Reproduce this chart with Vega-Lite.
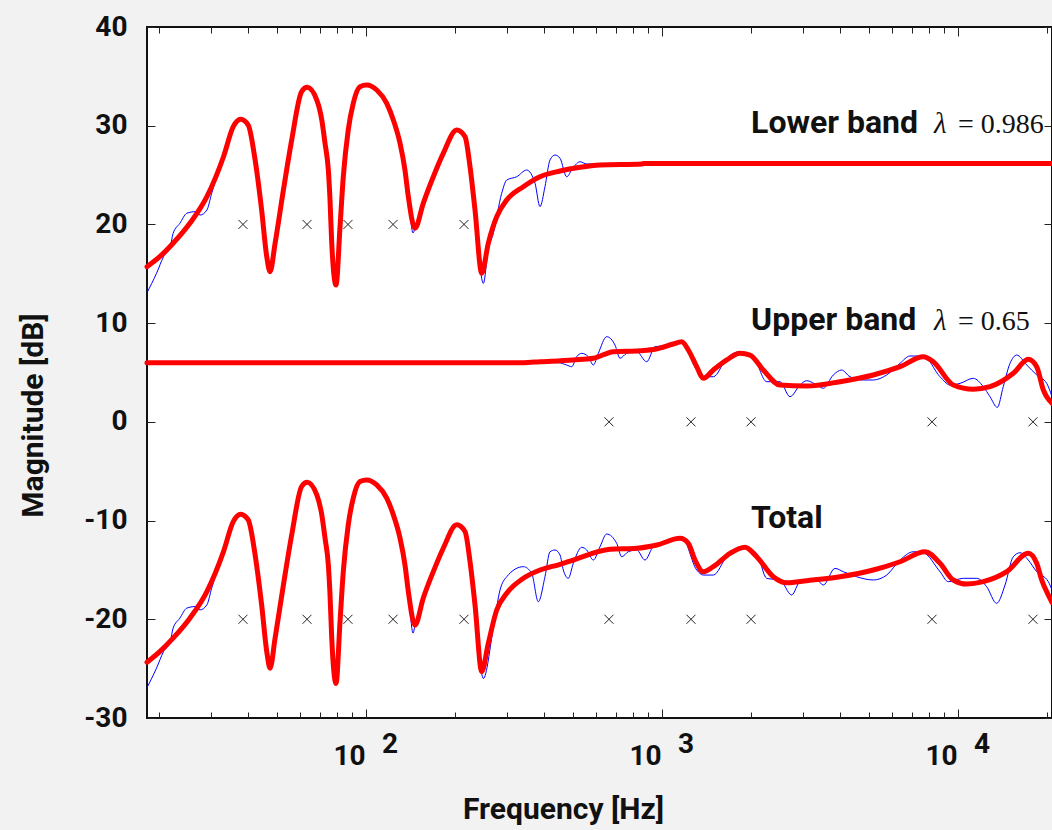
{
  "$schema": "https://vega.github.io/schema/vega-lite/v6.json",
  "width": 905,
  "height": 691,
  "autosize": {"type": "none"},
  "padding": {"left": 147, "top": 27, "right": 0, "bottom": 112},
  "background": "#f2f2f2",
  "config": {
    "view": {"fill": "white", "stroke": "#111", "strokeWidth": 2},
    "axis": {"grid": false, "domain": false, "labelFont": "Roboto", "titleFont": "Roboto", "labelColor": "#111", "titleColor": "#111", "tickColor": "#222"}
  },
  "datasets": {
    "lb": [
      {"f":18.2,"d":13.08},{"f":19.6,"d":15.05},{"f":20.7,"d":16.73},{"f":21.8,"d":17.74},{"f":22.3,"d":19.10},{"f":23.5,"d":20.11},{"f":24.8,"d":21.13},{"f":26.5,"d":21.29},{"f":27.5,"d":20.95},{"f":29.0,"d":21.46},{"f":30.1,"d":23.15},{"f":31.3,"d":24.83},{"f":33.0,"d":26.86},{"f":35.6,"d":29.90},{"f":37.7,"d":30.8},{"f":40.0,"d":30.07},{"f":42.2,"d":26.53},{"f":44.4,"d":21.46},{"f":46.2,"d":16.73},{"f":47.4,"d":15.0},{"f":49.3,"d":18.09},{"f":52.6,"d":23.49},{"f":56.1,"d":28.55},{"f":60.6,"d":33.45},{"f":63.3,"d":33.89},{"f":68.2,"d":32.60},{"f":70.9,"d":30.58},{"f":72.7,"d":28.22},{"f":74.6,"d":25.51},{"f":75.5,"d":22.81},{"f":76.6,"d":18.09},{"f":79.2,"d":13.9},{"f":81.7,"d":19.77},{"f":83.8,"d":24.83},{"f":87.1,"d":29.57},{"f":90.6,"d":32.30},{"f":95.4,"d":33.95},{"f":100.5,"d":34.12},{"f":108.7,"d":33.62},{"f":117.5,"d":32.27},{"f":123.7,"d":30.58},{"f":130.3,"d":28.22},{"f":135.4,"d":25.51},{"f":139.0,"d":22.81},{"f":144.2,"d":19.13},{"f":146.4,"d":19.61},{"f":156.1,"d":22.14},{"f":168.8,"d":24.83},{"f":182.4,"d":27.20},{"f":202.5,"d":29.57},{"f":216.0,"d":28.89},{"f":224.6,"d":25.85},{"f":233.5,"d":21.46},{"f":249.1,"d":14.03},{"f":258.9,"d":17.5},{"f":269.2,"d":19.10},{"f":287.3,"d":23.15},{"f":298.8,"d":24.50},{"f":322.9,"d":24.83},{"f":349.1,"d":25.51},{"f":372.4,"d":24.17},{"f":387.1,"d":21.80},{"f":402.4,"d":23.82},{"f":418.4,"d":26.53},{"f":435.0,"d":27.03},{"f":452.4,"d":26.70},{"f":476.4,"d":24.83},{"f":499.2,"d":25.69},{"f":528.5,"d":26.35},{"f":556.7,"d":26.12},{"f":617.3,"d":26.12},{"f":853.9,"d":26.12},{"f":20780,"d":26.17}
    ],
    "lr": [
      {"f":18.2,"d":15.72},{"f":20.1,"d":16.73},{"f":22.3,"d":18.09},{"f":25.4,"d":20.11},{"f":29.0,"d":22.81},{"f":33.0,"d":26.86},{"f":35.6,"d":29.90},{"f":37.7,"d":30.65},{"f":40.0,"d":30.07},{"f":42.2,"d":26.53},{"f":44.4,"d":21.46},{"f":46.2,"d":16.73},{"f":47.4,"d":15.21},{"f":49.3,"d":18.09},{"f":52.6,"d":23.49},{"f":56.1,"d":28.55},{"f":60.6,"d":33.45},{"f":63.3,"d":33.89},{"f":68.2,"d":32.60},{"f":70.9,"d":30.58},{"f":72.7,"d":28.22},{"f":74.6,"d":25.51},{"f":75.5,"d":22.81},{"f":76.6,"d":18.09},{"f":79.2,"d":13.86},{"f":81.7,"d":19.77},{"f":83.8,"d":24.83},{"f":87.1,"d":29.57},{"f":90.6,"d":32.30},{"f":95.4,"d":33.95},{"f":100.5,"d":34.12},{"f":108.7,"d":33.62},{"f":117.5,"d":32.27},{"f":123.7,"d":30.58},{"f":130.3,"d":28.22},{"f":135.4,"d":25.51},{"f":139.0,"d":22.81},{"f":146.4,"d":19.61},{"f":156.1,"d":22.14},{"f":168.8,"d":24.83},{"f":182.4,"d":27.20},{"f":202.5,"d":29.57},{"f":216.0,"d":28.89},{"f":224.6,"d":25.85},{"f":233.5,"d":21.46},{"f":246.0,"d":15.05},{"f":258.9,"d":18.09},{"f":276.4,"d":20.78},{"f":298.8,"d":22.47},{"f":340.0,"d":23.82},{"f":387.1,"d":24.83},{"f":452.4,"d":25.41},{"f":528.5,"d":25.79},{"f":617.3,"d":26.02},{"f":853.9,"d":26.12},{"f":870,"d":26.17},{"f":20780,"d":26.17}
    ],
    "ub": [
      {"f":18.2,"d":6.0},{"f":387.1,"d":6.0},{"f":445.3,"d":6.0},{"f":476.4,"d":5.76},{"f":495.4,"d":5.59},{"f":515.0,"d":6.60},{"f":535.5,"d":6.94},{"f":563.6,"d":6.60},{"f":586.1,"d":5.76},{"f":609.3,"d":6.94},{"f":650.4,"d":8.63},{"f":693.8,"d":7.78},{"f":721.3,"d":6.44},{"f":759.8,"d":6.94},{"f":821.3,"d":7.11},{"f":887.8,"d":6.09},{"f":947.1,"d":7.61},{"f":1091.8,"d":7.78},{"f":1165.8,"d":8.12},{"f":1310.2,"d":5.25},{"f":1379.2,"d":4.57},{"f":1490.5,"d":4.57},{"f":1654.6,"d":6.44},{"f":1834.5,"d":7.11},{"f":2033.9,"d":6.60},{"f":2258,"d":4.07},{"f":2503.6,"d":4.07},{"f":2707,"d":2.55},{"f":2926,"d":3.73},{"f":3082.3,"d":4.17},{"f":3332,"d":3.73},{"f":3507,"d":3.40},{"f":3791,"d":4.75},{"f":4047,"d":5.25},{"f":4316,"d":4.57},{"f":4786,"d":4.24},{"f":5174,"d":4.24},{"f":5743,"d":4.75},{"f":6370.6,"d":5.93},{"f":6883,"d":6.67},{"f":7635,"d":6.67},{"f":8696,"d":4.57},{"f":9398,"d":3.73},{"f":10160,"d":3.90},{"f":11263,"d":4.41},{"f":12180,"d":3.56},{"f":12827,"d":2.55},{"f":13580,"d":1.47},{"f":14220,"d":3.56},{"f":14990,"d":5.93},{"f":15790,"d":6.77},{"f":17070,"d":5.76},{"f":18450,"d":4.75},{"f":19940,"d":3.90},{"f":20780,"d":2.55}
    ],
    "ur": [
      {"f":18.2,"d":6.0},{"f":340,"d":6.0},{"f":387.1,"d":6.09},{"f":501.6,"d":6.27},{"f":586.1,"d":6.44},{"f":684.7,"d":7.11},{"f":842.8,"d":7.21},{"f":947.1,"d":7.35},{"f":1091.8,"d":7.89},{"f":1165.8,"d":8.12},{"f":1227.2,"d":7.28},{"f":1310.2,"d":5.59},{"f":1379.2,"d":4.41},{"f":1490.5,"d":5.25},{"f":1654.6,"d":6.27},{"f":1834.5,"d":6.94},{"f":1983.2,"d":6.77},{"f":2199.2,"d":5.25},{"f":2503.6,"d":3.73},{"f":3082.3,"d":3.63},{"f":3994,"d":4.07},{"f":5174,"d":4.75},{"f":6370.6,"d":5.59},{"f":7635.3,"d":6.60},{"f":8253,"d":6.09},{"f":9641,"d":3.73},{"f":11263,"d":3.30},{"f":12827,"d":3.56},{"f":15380,"d":4.92},{"f":17280,"d":6.34},{"f":18450,"d":5.59},{"f":19420,"d":3.23},{"f":20780,"d":1.88}
    ],
    "tb": [
      {"f":18.2,"d":-26.92},{"f":19.6,"d":-24.95},{"f":20.7,"d":-23.27},{"f":21.8,"d":-22.26},{"f":22.3,"d":-20.90},{"f":23.5,"d":-19.89},{"f":24.8,"d":-18.87},{"f":26.5,"d":-18.71},{"f":27.5,"d":-19.05},{"f":29.0,"d":-18.54},{"f":30.1,"d":-16.85},{"f":31.3,"d":-15.17},{"f":33.0,"d":-13.14},{"f":35.6,"d":-10.10},{"f":37.7,"d":-9.2},{"f":40.0,"d":-9.93},{"f":42.2,"d":-13.47},{"f":44.4,"d":-18.54},{"f":46.2,"d":-23.27},{"f":47.4,"d":-25.0},{"f":49.3,"d":-21.91},{"f":52.6,"d":-16.51},{"f":56.1,"d":-11.45},{"f":60.6,"d":-6.55},{"f":63.3,"d":-6.11},{"f":68.2,"d":-7.40},{"f":70.9,"d":-9.42},{"f":72.7,"d":-11.78},{"f":74.6,"d":-14.49},{"f":75.5,"d":-17.19},{"f":76.6,"d":-21.91},{"f":79.2,"d":-26.3},{"f":81.7,"d":-20.23},{"f":83.8,"d":-15.17},{"f":87.1,"d":-10.43},{"f":90.6,"d":-7.70},{"f":95.4,"d":-6.05},{"f":100.5,"d":-5.88},{"f":108.7,"d":-6.38},{"f":117.5,"d":-7.73},{"f":123.7,"d":-9.42},{"f":130.3,"d":-11.78},{"f":135.4,"d":-14.49},{"f":139.0,"d":-17.19},{"f":144.2,"d":-21.4},{"f":146.4,"d":-20.6},{"f":156.1,"d":-17.86},{"f":168.8,"d":-15.17},{"f":182.4,"d":-12.80},{"f":202.5,"d":-10.43},{"f":216.0,"d":-11.11},{"f":224.6,"d":-14.15},{"f":233.5,"d":-18.54},{"f":249.1,"d":-26.0},{"f":269.2,"d":-20.9},{"f":283.6,"d":-17.04},{"f":298.8,"d":-15.69},{"f":340.0,"d":-14.67},{"f":362.9,"d":-15.34},{"f":382.0,"d":-18.22},{"f":402.4,"d":-15.69},{"f":418.4,"d":-13.16},{"f":435.0,"d":-12.98},{"f":452.4,"d":-13.49},{"f":464.1,"d":-15.01},{"f":482.5,"d":-15.85},{"f":501.6,"d":-14.33},{"f":535.5,"d":-12.71},{"f":556.7,"d":-12.98},{"f":586.1,"d":-14.0},{"f":617.3,"d":-12.65},{"f":650.4,"d":-11.36},{"f":703.1,"d":-12.31},{"f":730.9,"d":-13.66},{"f":769.3,"d":-13.16},{"f":821.3,"d":-12.98},{"f":876.1,"d":-14.0},{"f":934.6,"d":-12.65},{"f":1091.8,"d":-11.97},{"f":1165.8,"d":-11.64},{"f":1310.2,"d":-15.01},{"f":1379.2,"d":-15.52},{"f":1490.5,"d":-15.52},{"f":1654.6,"d":-13.66},{"f":1883,"d":-12.65},{"f":2089,"d":-13.32},{"f":2258,"d":-15.85},{"f":2503.6,"d":-16.02},{"f":2743,"d":-17.54},{"f":2926,"d":-16.19},{"f":3332,"d":-16.02},{"f":3507,"d":-16.53},{"f":3841,"d":-14.84},{"f":4098,"d":-15.18},{"f":4548,"d":-15.69},{"f":5174,"d":-16.02},{"f":5743,"d":-15.52},{"f":6371,"d":-14.0},{"f":7063,"d":-13.16},{"f":7635,"d":-13.26},{"f":8696,"d":-15.18},{"f":9273,"d":-16.19},{"f":10420,"d":-15.85},{"f":11570,"d":-15.85},{"f":12500,"d":-16.70},{"f":13510,"d":-18.38},{"f":14420,"d":-16.53},{"f":15380,"d":-13.66},{"f":16200,"d":-13.26},{"f":17280,"d":-14.0},{"f":18450,"d":-15.18},{"f":20190,"d":-16.19},{"f":20780,"d":-17.04}
    ],
    "tr": [
      {"f":18.2,"d":-24.35},{"f":20.1,"d":-23.27},{"f":22.3,"d":-21.91},{"f":25.4,"d":-19.89},{"f":29.0,"d":-17.19},{"f":33.0,"d":-13.14},{"f":35.6,"d":-10.10},{"f":37.7,"d":-9.35},{"f":40.0,"d":-9.93},{"f":42.2,"d":-13.47},{"f":44.4,"d":-18.54},{"f":46.2,"d":-23.27},{"f":47.4,"d":-24.97},{"f":49.3,"d":-21.91},{"f":52.6,"d":-16.51},{"f":56.1,"d":-11.45},{"f":60.6,"d":-6.55},{"f":63.3,"d":-6.11},{"f":68.2,"d":-7.40},{"f":70.9,"d":-9.42},{"f":72.7,"d":-11.78},{"f":74.6,"d":-14.49},{"f":75.5,"d":-17.19},{"f":76.6,"d":-21.91},{"f":79.2,"d":-26.5},{"f":81.7,"d":-20.23},{"f":83.8,"d":-15.17},{"f":87.1,"d":-10.43},{"f":90.6,"d":-7.70},{"f":95.4,"d":-6.05},{"f":100.5,"d":-5.88},{"f":108.7,"d":-6.38},{"f":117.5,"d":-7.73},{"f":123.7,"d":-9.42},{"f":130.3,"d":-11.78},{"f":135.4,"d":-14.49},{"f":139.0,"d":-17.19},{"f":146.4,"d":-20.6},{"f":156.1,"d":-17.86},{"f":168.8,"d":-15.17},{"f":182.4,"d":-12.80},{"f":202.5,"d":-10.43},{"f":216.0,"d":-11.11},{"f":224.6,"d":-14.15},{"f":233.5,"d":-18.54},{"f":246.0,"d":-25.3},{"f":258.9,"d":-22.44},{"f":276.4,"d":-19.06},{"f":298.8,"d":-17.37},{"f":340.0,"d":-15.85},{"f":387.1,"d":-15.01},{"f":452.4,"d":-14.43},{"f":501.6,"d":-14.0},{"f":667.2,"d":-12.91},{"f":821.3,"d":-12.81},{"f":959.7,"d":-12.48},{"f":1150,"d":-11.80},{"f":1227.2,"d":-12.31},{"f":1293,"d":-14.0},{"f":1379.2,"d":-15.18},{"f":1490.5,"d":-14.67},{"f":1697,"d":-13.32},{"f":1907,"d":-12.71},{"f":2089,"d":-13.66},{"f":2377,"d":-15.69},{"f":2638,"d":-16.30},{"f":3082,"d":-16.09},{"f":3994,"d":-15.69},{"f":5174,"d":-15.01},{"f":6371,"d":-14.17},{"f":7736,"d":-13.16},{"f":8696,"d":-14.33},{"f":9641,"d":-16.02},{"f":10700,"d":-16.43},{"f":12180,"d":-16.19},{"f":14610,"d":-15.18},{"f":17280,"d":-13.32},{"f":18450,"d":-14.33},{"f":19180,"d":-16.02},{"f":20460,"d":-17.88},{"f":20780,"d":-18.3}
    ],
    "mk": [
      {"f":38.4,"d":20},{"f":63.2,"d":20},{"f":86.9,"d":20},{"f":123.4,"d":20},{"f":214.3,"d":20},
      {"f":662,"d":0},{"f":1253,"d":0},{"f":1999,"d":0},{"f":8170,"d":0},{"f":17920,"d":0},
      {"f":38.4,"d":-20},{"f":63.2,"d":-20},{"f":86.9,"d":-20},{"f":123.4,"d":-20},{"f":214.3,"d":-20},
      {"f":662,"d":-20},{"f":1253,"d":-20},{"f":1999,"d":-20},{"f":8170,"d":-20},{"f":17920,"d":-20}
    ],
    "ann": [
      {"f":2000,"d":29.23,"t":"Lower band"},
      {"f":2000,"d":9.30,"t":"Upper band"},
      {"f":2000,"d":-10.8,"t":"Total"}
    ],
    "lam": [
      {"f":8300,"d":29.23,"t":"λ","v":"= 0.986"},
      {"f":8300,"d":9.30,"t":"λ","v":"= 0.65"}
    ],
    "exp": [
      {"f":100,"e":"2"},{"f":1000,"e":"3"},{"f":10000,"e":"4"}
    ]
  },
  "resolve": {"axis": {"x": "independent", "y": "independent"}},
  "layer": [
    {
      "data": {"name": "lb"},
      "mark": {"type": "line", "color": "#0000ff", "strokeWidth": 1, "interpolate": "monotone"},
      "encoding": {
        "x": {"field": "f", "type": "quantitative", "scale": {"type": "log", "domain": [18.2, 20780]},
          "axis": {"orient": "bottom", "values": [100, 1000, 10000], "labelExpr": "'10'", "ticks": false, "labelFontSize": 28, "labelFontWeight": "bold", "labelPadding": 24, "labelOffset": -17, "labelOverlap": false, "labelFlush": false,
            "title": "Frequency [Hz]", "titleFontSize": 30, "titleFontWeight": "bold", "titleX": 416, "titleY": 100, "titleBaseline": "alphabetic", "titleAlign": "center"}},
        "y": {"field": "d", "type": "quantitative", "scale": {"domain": [-30, 40]},
          "axis": {"orient": "left", "values": [-30, -20, -10, 0, 10, 20, 30, 40], "labelExpr": "datum.value + ''", "ticks": false, "labelFontSize": 28, "labelFontWeight": "bold", "labelPadding": 20, "labelFlush": false, "labelOverlap": false,
            "title": "Magnitude [dB]", "titleFontSize": 30, "titleFontWeight": "bold", "titleX": -114, "titleY": 388, "titleAngle": 270, "titleBaseline": "middle", "titleAlign": "center"}}
      }
    },
    {
      "data": {"name": "ub"},
      "mark": {"type": "line", "color": "#0000ff", "strokeWidth": 1, "interpolate": "monotone"},
      "encoding": {
        "x": {"field": "f", "type": "quantitative", "scale": {"type": "log", "domain": [18.2, 20780]},
          "axis": {"orient": "bottom", "values": [20, 30, 40, 50, 60, 70, 80, 90, 100, 200, 300, 400, 500, 600, 700, 800, 900, 1000, 2000, 3000, 4000, 5000, 6000, 7000, 8000, 9000, 10000, 20000], "labels": false, "title": null,
            "tickSize": {"condition": {"test": "datum.value == 100 || datum.value == 1000 || datum.value == 10000", "value": -9}, "value": -6}, "tickWidth": 1}},
        "y": {"field": "d", "type": "quantitative", "scale": {"domain": [-30, 40]},
          "axis": {"orient": "left", "values": [-30, -20, -10, 0, 10, 20, 30, 40], "labels": false, "title": null, "tickSize": -8, "tickWidth": 1}}
      }
    },
    {
      "data": {"name": "tb"},
      "mark": {"type": "line", "color": "#0000ff", "strokeWidth": 1, "interpolate": "monotone"},
      "encoding": {
        "x": {"field": "f", "type": "quantitative", "scale": {"type": "log", "domain": [18.2, 20780]},
          "axis": {"orient": "top", "values": [20, 30, 40, 50, 60, 70, 80, 90, 100, 200, 300, 400, 500, 600, 700, 800, 900, 1000, 2000, 3000, 4000, 5000, 6000, 7000, 8000, 9000, 10000, 20000], "labels": false, "title": null,
            "tickSize": {"condition": {"test": "datum.value == 100 || datum.value == 1000 || datum.value == 10000", "value": -9}, "value": -6}, "tickWidth": 1}},
        "y": {"field": "d", "type": "quantitative", "scale": {"domain": [-30, 40]},
          "axis": {"orient": "right", "values": [-30, -20, -10, 0, 10, 20, 30, 40], "labels": false, "title": null, "tickSize": -8, "tickWidth": 1}}
      }
    },
    {
      "mark": {"type": "rule", "color": "#333", "strokeWidth": 1, "strokeDash": [4, 3]},
      "encoding": {
        "x": {"datum": 495, "type": "quantitative", "scale": {"type": "log", "domain": [18.2, 20780]}, "axis": null}
      }
    },
    {
      "data": {"name": "lr"},
      "mark": {"type": "line", "color": "#ff0000", "strokeWidth": 5, "strokeJoin": "round", "strokeCap": "round", "interpolate": "monotone"},
      "encoding": {
        "x": {"field": "f", "type": "quantitative", "scale": {"type": "log", "domain": [18.2, 20780]}, "axis": null},
        "y": {"field": "d", "type": "quantitative", "scale": {"domain": [-30, 40]}, "axis": null}
      }
    },
    {
      "data": {"name": "ur"},
      "mark": {"type": "line", "color": "#ff0000", "strokeWidth": 5, "strokeJoin": "round", "strokeCap": "round", "interpolate": "monotone"},
      "encoding": {
        "x": {"field": "f", "type": "quantitative", "scale": {"type": "log", "domain": [18.2, 20780]}, "axis": null},
        "y": {"field": "d", "type": "quantitative", "scale": {"domain": [-30, 40]}, "axis": null}
      }
    },
    {
      "data": {"name": "tr"},
      "mark": {"type": "line", "color": "#ff0000", "strokeWidth": 5, "strokeJoin": "round", "strokeCap": "round", "interpolate": "monotone"},
      "encoding": {
        "x": {"field": "f", "type": "quantitative", "scale": {"type": "log", "domain": [18.2, 20780]}, "axis": null},
        "y": {"field": "d", "type": "quantitative", "scale": {"domain": [-30, 40]}, "axis": null}
      }
    },
    {
      "data": {"name": "mk"},
      "mark": {"type": "point", "shape": "M-1,-1L1,1M-1,1L1,-1", "filled": false, "stroke": "#222", "strokeWidth": 1, "size": 81, "opacity": 1},
      "encoding": {
        "x": {"field": "f", "type": "quantitative", "scale": {"type": "log", "domain": [18.2, 20780]}, "axis": null},
        "y": {"field": "d", "type": "quantitative", "scale": {"domain": [-30, 40]}, "axis": null}
      }
    },
    {
      "data": {"name": "ann"},
      "mark": {"type": "text", "align": "left", "baseline": "alphabetic", "font": "Roboto", "fontWeight": "bold", "fontSize": 32, "color": "#111"},
      "encoding": {
        "x": {"field": "f", "type": "quantitative", "scale": {"type": "log", "domain": [18.2, 20780]}, "axis": null},
        "y": {"field": "d", "type": "quantitative", "scale": {"domain": [-30, 40]}, "axis": null},
        "text": {"field": "t"}
      }
    },
    {
      "data": {"name": "lam"},
      "mark": {"type": "text", "align": "left", "baseline": "alphabetic", "font": "Liberation Serif", "fontStyle": "italic", "fontSize": 29, "color": "#111"},
      "encoding": {
        "x": {"field": "f", "type": "quantitative", "scale": {"type": "log", "domain": [18.2, 20780]}, "axis": null},
        "y": {"field": "d", "type": "quantitative", "scale": {"domain": [-30, 40]}, "axis": null},
        "text": {"field": "t"}
      }
    },
    {
      "data": {"name": "lam"},
      "mark": {"type": "text", "align": "left", "baseline": "alphabetic", "font": "Liberation Serif", "fontSize": 28, "color": "#111", "dx": 24},
      "encoding": {
        "x": {"field": "f", "type": "quantitative", "scale": {"type": "log", "domain": [18.2, 20780]}, "axis": null},
        "y": {"field": "d", "type": "quantitative", "scale": {"domain": [-30, 40]}, "axis": null},
        "text": {"field": "v"}
      }
    },
    {
      "data": {"name": "exp"},
      "mark": {"type": "text", "align": "center", "baseline": "middle", "font": "Roboto", "fontWeight": "bold", "fontSize": 28, "color": "#111", "dx": 24, "dy": 27},
      "encoding": {
        "x": {"field": "f", "type": "quantitative", "scale": {"type": "log", "domain": [18.2, 20780]}, "axis": null},
        "y": {"datum": -30, "type": "quantitative", "scale": {"domain": [-30, 40]}, "axis": null},
        "text": {"field": "e"}
      }
    }
  ]
}
